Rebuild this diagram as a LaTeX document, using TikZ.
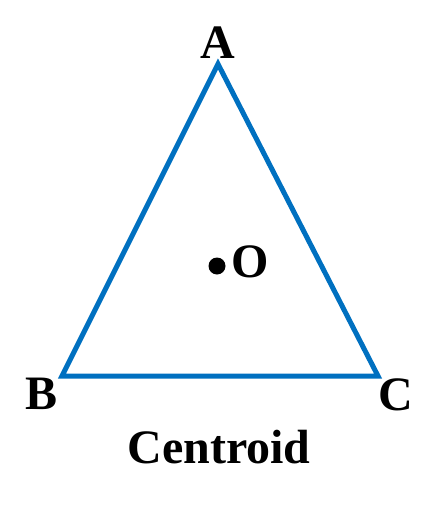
\documentclass[tikz,border=0pt]{standalone}
\usepackage{fontspec}
\setmainfont{Liberation Serif}
\definecolor{triblue}{RGB}{0,112,192}
\begin{document}
\begin{tikzpicture}[x=1pt,y=-1pt,
  lbl/.style={font=\fontsize{48}{52}\selectfont\bfseries, inner sep=0pt, anchor=base},
  edge/.style={draw=triblue, line width=5pt, line join=miter}]
\useasboundingbox (0,0) rectangle (440,506);
\coordinate (A) at (218,64);
\coordinate (B) at (62,376);
\coordinate (C) at (378,376);
\draw[edge] (A) -- (B) -- (C) -- cycle;
\node[lbl] (la) at (218,58) {A};
\node[lbl] (lb) at (42,409) {B};
\node[lbl] (lc) at (396,410) {C};
\fill (217,266) circle (8.5);
\node[lbl] (lo) at (250,277) {O};
\node[lbl] (title) at (219,463) {Centroid};
\end{tikzpicture}
\end{document}
